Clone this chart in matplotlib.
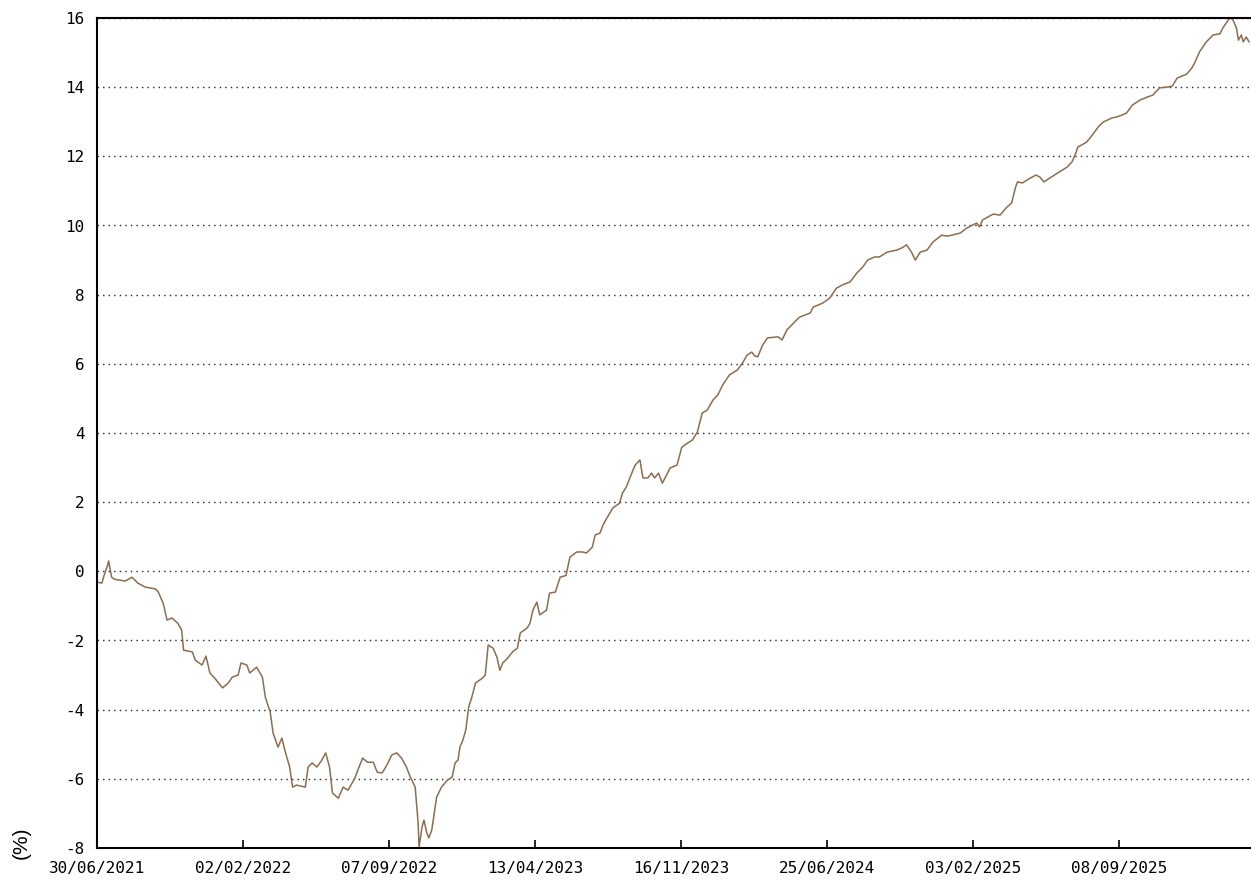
import matplotlib.pyplot as plt

plt.rcParams["axes.unicode_minus"] = False

# trading-day index (150 days between labelled ticks) and cumulative return (%)
day = [0, 5, 8, 11, 12, 15, 18, 29, 36, 42, 49, 60, 63, 68, 72, 77, 83, 87, 89,
       98, 101, 108, 112, 116, 121, 129, 135, 139, 145, 148, 154, 157, 164, 170,
       173, 178, 181, 186, 190, 193, 198, 201, 205, 214, 217, 221, 226, 231, 235,
       239, 242, 248, 253, 258, 265, 268, 273, 278, 284, 288, 293, 298, 303, 308,
       313, 318, 322, 327, 330, 331, 334, 336, 339, 341, 344, 346, 349, 354, 360,
       365, 368, 371, 373, 376, 379, 382, 385, 389, 396, 399, 402, 407, 411, 414,
       417, 422, 427, 432, 435, 442, 445, 448, 452, 455, 462, 465, 471, 476, 482,
       486, 493, 499, 503, 509, 512, 517, 520, 524, 527, 530, 537, 540, 544, 550,
       553, 558, 561, 566, 570, 573, 577, 581, 589, 596, 601, 607, 612, 617, 622,
       627, 633, 638, 643, 650, 658, 664, 668, 673, 676, 679, 684, 689, 700, 704,
       709, 719, 722, 733, 736, 746, 753, 760, 766, 774, 781, 787, 792, 799, 804,
       812, 822, 827, 832, 837, 841, 846, 853, 859, 868, 874, 887, 894, 904, 907,
       910, 921, 928, 935, 940, 944, 946, 951, 959, 965, 969, 973, 979, 989, 997,
       1002, 1006, 1008, 1017, 1023, 1029, 1034, 1043, 1048, 1053, 1058, 1064,
       1072, 1080, 1085, 1092, 1099, 1105, 1110, 1120, 1125, 1128, 1133, 1140,
       1147, 1154, 1157, 1164, 1167, 1171, 1173, 1176, 1178, 1181, 1184]
ret = [-0.31, -0.34, -0.05, 0.18, 0.30, -0.17, -0.23, -0.28, -0.17, -0.34, -0.45,
       -0.51, -0.60, -0.92, -1.41, -1.35, -1.50, -1.70, -2.28, -2.33, -2.57, -2.71,
       -2.45, -2.94, -3.09, -3.37, -3.23, -3.06, -3.00, -2.65, -2.71, -2.94, -2.77,
       -3.06, -3.64, -4.07, -4.68, -5.08, -4.82, -5.17, -5.66, -6.24, -6.18, -6.24,
       -5.66, -5.54, -5.66, -5.46, -5.25, -5.66, -6.41, -6.56, -6.24, -6.33, -5.98,
       -5.75, -5.40, -5.52, -5.52, -5.81, -5.83, -5.60, -5.31, -5.25, -5.40, -5.66,
       -5.95, -6.24, -7.28, -7.97, -7.40, -7.19, -7.57, -7.71, -7.48, -7.11, -6.53,
       -6.24, -6.04, -5.95, -5.54, -5.46, -5.08, -4.88, -4.59, -3.92, -3.66, -3.23,
       -3.09, -3.00, -2.13, -2.22, -2.48, -2.86, -2.65, -2.51, -2.33, -2.22, -1.78,
       -1.64, -1.50, -1.12, -0.89, -1.26, -1.12, -0.63, -0.60, -0.17, -0.12, 0.41,
       0.56, 0.56, 0.53, 0.70, 1.05, 1.11, 1.34, 1.54, 1.68, 1.83, 1.97, 2.26, 2.44,
       2.87, 3.07, 3.22, 2.70, 2.70, 2.84, 2.70, 2.84, 2.55, 2.99, 3.07, 3.59, 3.71,
       3.80, 4.03, 4.58, 4.66, 4.95, 5.10, 5.39, 5.68, 5.82, 6.05, 6.25, 6.34, 6.23,
       6.20, 6.54, 6.75, 6.78, 6.69, 6.98, 7.27, 7.35, 7.47, 7.64, 7.76, 7.90, 8.19,
       8.28, 8.37, 8.63, 8.80, 9.00, 9.09, 9.09, 9.23, 9.29, 9.35, 9.44, 9.23, 9.00,
       9.23, 9.29, 9.52, 9.72, 9.69, 9.78, 9.93, 10.07, 9.96, 10.16, 10.33, 10.30,
       10.53, 10.65, 11.11, 11.26, 11.23, 11.37, 11.46, 11.40, 11.26, 11.37, 11.55,
       11.69, 11.84, 12.10, 12.27, 12.41, 12.62, 12.85, 12.99, 13.11, 13.14, 13.19,
       13.25, 13.48, 13.63, 13.72, 13.77, 13.98, 14.00, 14.03, 14.26, 14.38, 14.55,
       14.70, 15.02, 15.31, 15.51, 15.54, 15.71, 16.00, 15.97, 15.71, 15.36, 15.51,
       15.31, 15.45, 15.31]

tick_pos = [0, 150, 300, 450, 600, 750, 900, 1050]
tick_labels = ["30/06/2021", "02/02/2022", "07/09/2022", "13/04/2023",
               "16/11/2023", "25/06/2024", "03/02/2025", "08/09/2025"]

fig = plt.figure(figsize=(12.51, 8.80), dpi=100)
ax = fig.add_axes([97 / 1251, 32 / 880, 1156 / 1251, 830 / 880])

ax.plot(day, ret, color="#8c6d4f", linewidth=1.1)

ax.set_xlim(0, 1188)
ax.set_ylim(-8, 16)
ax.set_yticks(range(-8, 17, 2))
ax.set_xticks(tick_pos)
ax.set_xticklabels(tick_labels)

ax.grid(axis="y", linestyle=(0, (1, 3)), color="#222222", linewidth=1)
ax.set_axisbelow(True)

for side in ["left", "bottom", "top", "right"]:
    ax.spines[side].set_linewidth(1.5)

mono = "DejaVu Sans Mono"
ax.tick_params(axis="x", direction="in", length=6, width=1.2, pad=9,
               labelsize=11.5, labelfontfamily=mono)
ax.tick_params(axis="y", length=0, pad=9, labelsize=11.5, labelfontfamily=mono)

# y-axis unit label, bottom-left as in the reference
fig.text(21 / 1251, 1 - 843 / 880, "(%)", rotation=90, rotation_mode="anchor",
         ha="center", va="center", fontsize=15, family="Liberation Sans")

fig.savefig("out.png", dpi=100)
